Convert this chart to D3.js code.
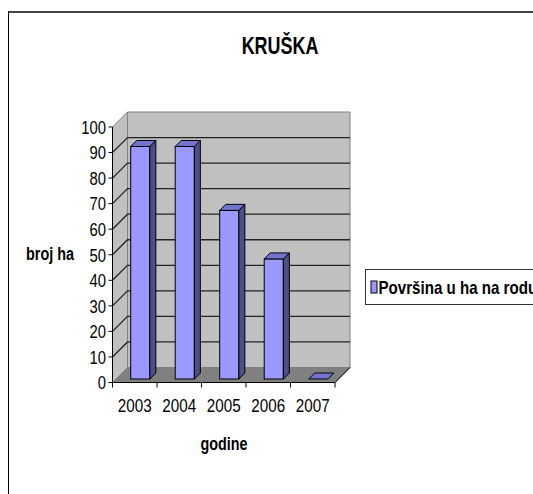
<!DOCTYPE html>
<html>
<head>
<meta charset="utf-8">
<script src="https://cdn.jsdelivr.net/npm/d3@7"></script>
<style>
  body { margin: 0; background: #fff; }
  svg { display: block; }
  text { font-family: "Liberation Sans", Arial, sans-serif; fill: #000; }
</style>
</head>
<body>
<svg id="chart" width="533" height="494"></svg>
<script>
var years = ['2003', '2004', '2005', '2006', '2007'];
var values = [91, 91, 66, 47, 0];
var yTicks = [0, 10, 20, 30, 40, 50, 60, 70, 80, 90, 100];
var seriesName = 'Površina u ha na rodu';

var svg = d3.select('#chart');

// 3d depth of the plot box and of the columns (px)
var DX = 15, DY = 15;
var barFront = 3.5, barBack = 9.5;

var y = d3.scaleLinear().domain([0, 100]).range([382.5, 127]);
var xCat = d3.scaleBand().domain(years).range([112.5, 335]);
var xBar = d3.scaleBand().domain(years).range([112.5, 335])
  .paddingInner(0.57).paddingOuter(0.285).align(0.58);

function pts(a) {
  return a.map(function (p) { return p.join(','); }).join(' ');
}

// the original uses a narrow face, no narrow font here so squeeze Arial
function at(x, y, k) {
  return 'translate(' + x + ',' + y + ') scale(' + (k || 0.82) + ',1)';
}

// outer frame
svg.append('line').attr('x1', 8).attr('x2', 533).attr('y1', 12).attr('y2', 12)
  .attr('stroke', '#444').attr('stroke-width', 2);
svg.append('line').attr('x1', 8.5).attr('x2', 8.5).attr('y1', 11).attr('y2', 494)
  .attr('stroke', '#000').attr('stroke-width', 1);

svg.append('text')
  .attr('transform', at(280, 53.5, 0.78))
  .attr('text-anchor', 'middle')
  .style('font-size', '23px').style('font-weight', 'bold')
  .text('KRUŠKA');

var x0 = xCat.range()[0], x1 = xCat.range()[1];
var y0 = y(0), y100 = y(100);

// walls
var walls = svg.append('g');
walls.append('polygon')
  .attr('points', pts([[x0 + DX, y100 - DY], [x1 + DX, y100 - DY], [x1 + DX, y0 - DY], [x0 + DX, y0 - DY]]))
  .attr('fill', '#c0c0c0').attr('stroke', '#808080');
walls.append('polygon')
  .attr('points', pts([[x0, y100], [x0 + DX, y100 - DY], [x0 + DX, y0 - DY], [x0, y0]]))
  .attr('fill', '#c0c0c0').attr('stroke', '#808080');
walls.append('polygon')
  .attr('points', pts([[x0, y0], [x1, y0], [x1 + DX, y0 - DY], [x0 + DX, y0 - DY]]))
  .attr('fill', '#808080').attr('stroke', '#808080');
walls.append('line')
  .attr('x1', x1).attr('y1', y0).attr('x2', x1 + DX).attr('y2', y0 - DY)
  .attr('stroke', '#000');

// gridlines on back and side walls
var grid = yTicks.filter(function (t) { return t > 0 && t < 100; });
walls.selectAll('.grid').data(grid).enter().append('polyline')
  .attr('class', 'grid')
  .attr('points', function (t) {
    return pts([[x0, y(t)], [x0 + DX, y(t) - DY], [x1 + DX, y(t) - DY]]);
  })
  .attr('fill', 'none').attr('stroke', '#222').attr('stroke-width', 1.3);

// columns
var bw = xBar.bandwidth();
var bars = svg.append('g').selectAll('g').data(years).enter().append('g');
bars.each(function (d, i) {
  var g = d3.select(this);
  var xl = xBar(d) + barFront, xr = xl + bw;
  var yt = y(values[i]) - barFront, yb = y(0) - barFront;
  var dd = barBack - barFront;
  if (values[i] > 0) {
    g.append('rect')
      .attr('x', xl).attr('y', yt).attr('width', bw).attr('height', yb - yt)
      .attr('fill', '#9999ff').attr('stroke', '#000');
    g.append('polygon')
      .attr('points', pts([[xr, yt], [xr + dd, yt - dd], [xr + dd, yb - dd], [xr, yb]]))
      .attr('fill', '#4d4d88').attr('stroke', '#000');
  }
  g.append('polygon')
    .attr('points', pts([[xl, yt], [xr, yt], [xr + dd, yt - dd], [xl + dd, yt - dd]]))
    .attr('fill', '#7373d0').attr('stroke', '#000');
});

// axes
svg.append('line').attr('x1', x0).attr('x2', x0).attr('y1', y100).attr('y2', y0)
  .attr('stroke', '#000');
svg.append('line').attr('x1', x0).attr('x2', x1).attr('y1', y0).attr('y2', y0)
  .attr('stroke', '#000');

var yAxis = svg.append('g');
yAxis.selectAll('line').data(yTicks).enter().append('line')
  .attr('x1', x0 - 4).attr('x2', x0).attr('y1', y).attr('y2', y)
  .attr('stroke', '#000');
yAxis.selectAll('text').data(yTicks).enter().append('text')
  .attr('transform', function (t) { return at(106, y(t), 0.78); })
  .attr('dy', '0.36em')
  .attr('text-anchor', 'end')
  .style('font-size', '19px')
  .text(function (t) { return t; });

var xTicks = years.map(function (d) { return xCat(d); }).concat([x1]);
var xAxis = svg.append('g');
xAxis.selectAll('line').data(xTicks).enter().append('line')
  .attr('x1', function (d) { return d; }).attr('x2', function (d) { return d; })
  .attr('y1', y0).attr('y2', y0 + 5)
  .attr('stroke', '#000');
xAxis.selectAll('text').data(years).enter().append('text')
  .attr('transform', function (d) { return at(xCat(d) + xCat.bandwidth() / 2, 411.5, 0.8); })
  .attr('text-anchor', 'middle')
  .style('font-size', '19px')
  .text(function (d) { return d; });

svg.append('text')
  .attr('transform', at(50, 260))
  .attr('text-anchor', 'middle')
  .style('font-size', '17.5px').style('font-weight', 'bold')
  .text('broj ha');
svg.append('text')
  .attr('transform', at(224, 450))
  .attr('text-anchor', 'middle')
  .style('font-size', '17.5px').style('font-weight', 'bold')
  .text('godine');

// legend
var legend = svg.append('g');
legend.append('rect')
  .attr('x', 365.5).attr('y', 269.5).attr('width', 200).attr('height', 35)
  .attr('fill', '#fff').attr('stroke', '#333');
legend.append('rect')
  .attr('x', 371).attr('y', 281).attr('width', 6).attr('height', 12)
  .attr('fill', '#9999ff').attr('stroke', '#000');
legend.append('text')
  .attr('transform', at(378.5, 293.5, 0.84))
  .style('font-size', '18px').style('font-weight', 'bold')
  .text(seriesName);
</script>
</body>
</html>
